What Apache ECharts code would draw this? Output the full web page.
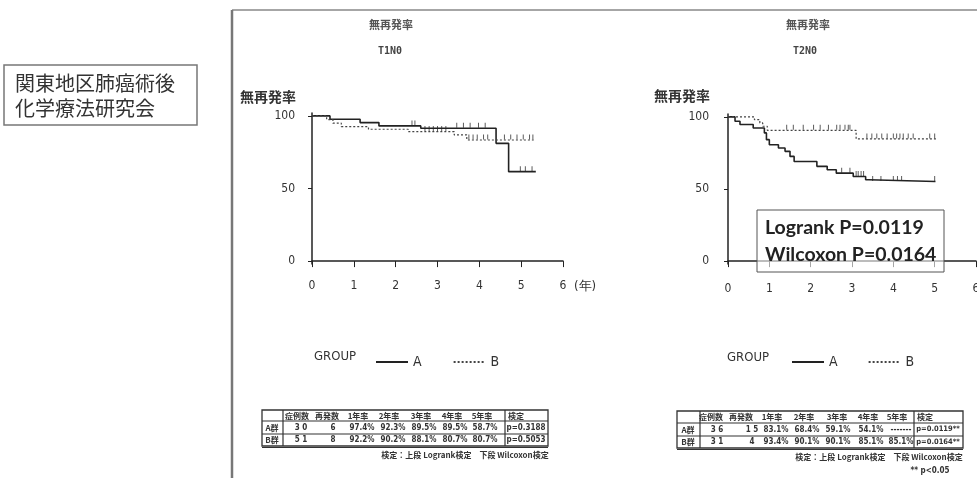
<!DOCTYPE html>
<html><head><meta charset="utf-8">
<script src="https://cdn.jsdelivr.net/npm/echarts@6/dist/echarts.min.js"></script>
<style>html,body{margin:0;padding:0;background:#fff}#c{width:977px;height:478px}</style>
</head><body><div id="c"></div>
<script>
// ---- data ----
const xTicks = [0, 1, 2, 3, 4, 5, 6];
const yTicks = [0, 50, 100];
const groupNames = ['A', 'B'];
// T1N0 Kaplan-Meier steps [year, %]
const t1A = [[0,100],[0.43,97.7],[1.15,95.4],[1.6,93.1],[2.6,91.5],[4.4,81.1],[4.7,61.6],[5.35,61.6]];
const t1B = [[0,100],[0.35,97.5],[0.5,95],[0.7,92.6],[1.35,90.8],[2.3,89.2],[3.4,86.9],[3.7,83.4],[5.3,83.4]];
const t1ACens = [2.39,2.46,3.46,3.62,3.78,3.98,4.14,4.98,5.1,5.26];
const t1BCens = [2.7,2.8,2.9,3.0,3.1,3.2,3.75,3.85,3.95,4.1,4.2,4.6,4.75,4.9,5.05,5.2,5.28];
// T2N0
const t2A = [[0,100],[0.17,97],[0.29,94.7],[0.61,92.3],[0.88,88.9],[0.93,84.2],[1.0,80.7],[1.22,78.4],[1.38,76.1],[1.5,72.6],[1.6,69.1],[2.15,65.7],[2.4,63.3],[2.62,61],[3.03,58.7],[3.33,56.4],[3.4,55.2],[5.02,55.2]];
const t2B = [[0,100],[0.64,98.1],[0.77,95.8],[0.84,93.5],[0.95,90.7],[3.1,84.7],[5.05,84.7]];
const t2ACens = [2.75,2.95,3.1,3.15,3.22,3.28,3.5,3.7,4.0,4.1,4.2,5.0];
const t2BCens = [1.42,1.58,1.82,2.07,2.23,2.43,2.63,2.71,2.83,2.91,2.95,3.36,3.48,3.6,3.72,3.85,4.0,4.08,4.16,4.24,4.36,4.48,4.88,5.0];
// tables
const tableHeaders = ['症例数','再発数','1年率','2年率','3年率','4年率','5年率','検定'];
const rowLabels = ['A群','B群'];
const t1RowA = ['3 0','6','97.4%','92.3%','89.5%','89.5%','58.7%','p=0.3188'];
const t1RowB = ['5 1','8','92.2%','90.2%','88.1%','80.7%','80.7%','p=0.5053'];
const t2RowA = ['3 6','1 5','83.1%','68.4%','59.1%','54.1%','-------','p=0.0119**'];
const t2RowB = ['3 1','4','93.4%','90.1%','90.1%','85.1%','85.1%','p=0.0164**'];
const tableNote = '検定：上段 Logrank検定　下段 Wilcoxon検定';
const sigNote = '** p<0.05';
const pBox = ['Logrank P=0.0119', 'Wilcoxon P=0.0164'];
const orgText = ['関東地区肺癌術後', '化学療法研究会'];
const chartTitle = '無再発率';
const subTitles = ['T1N0', 'T2N0'];
const yName = '無再発率';
const xUnit = '(年)';

// ---- helpers ----
function survAt(curve, t) {
  let s = curve[0][1];
  for (const p of curve) { if (p[0] <= t) s = p[1]; }
  return s;
}
const NARROW = '"Liberation Sans Narrow","DejaVu Sans Condensed","Liberation Sans",sans-serif';
const CJK = '"Noto Sans CJK JP",sans-serif';
function txt(x, y, text, size, opts) {
  opts = opts || {};
  return { type: 'text', z: 10, style: {
    x: x, y: y, text: text, fontSize: size, fontFamily: opts.family || CJK,
    fontWeight: opts.weight || 'normal', fill: opts.fill || '#333',
    align: opts.align || 'center', textAlign: opts.align || 'center',
    verticalAlign: 'middle', textVerticalAlign: 'middle'
  } };
}
function line(x1, y1, x2, y2, w, c) {
  return { type: 'line', z: 10, shape: { x1, y1, x2, y2 }, style: { stroke: c || '#333', lineWidth: w || 1 } };
}
function table(L, R, divL, divR, top, hb, mid, bot, labelX, headX, valX, rowA, rowB, pSize) {
  const els = [];
  els.push({ type: 'rect', z: 10, shape: { x: L, y: top, width: R - L, height: bot - top }, style: { fill: 'none', stroke: '#333', lineWidth: 1.3 } });
  els.push(line(L, hb, R, hb, 1.2));
  els.push(line(L, mid, R, mid, 1.2));
  els.push(line(L, bot + 1.5, R, bot + 1.5, 1));
  els.push(line(divL, top, divL, bot, 1.2));
  els.push(line(divR, top, divR, bot, 1.2));
  tableHeaders.forEach((h, i) => els.push(txt(headX[i], (top + hb) / 2, h, 8, { weight: 'bold' })));
  els.push(txt(labelX, (hb + mid) / 2, rowLabels[0], 8, { weight: 'bold' }));
  els.push(txt(labelX, (mid + bot) / 2, rowLabels[1], 8, { weight: 'bold' }));
  const last = rowA.length - 1;
  rowA.forEach((v, i) => els.push(txt(valX[i], (hb + mid) / 2, v, i === last ? pSize : 8, { weight: 'bold', family: NARROW })));
  rowB.forEach((v, i) => els.push(txt(valX[i], (mid + bot) / 2, v, i === last ? pSize : 8, { weight: 'bold', family: NARROW })));
  return els;
}

// ---- chart ----
const chart = echarts.init(document.getElementById('c'), null, { renderer: 'canvas' });
const axisTxt = { color: '#333', fontSize: 12, fontFamily: NARROW };
function xAxis(gi, off) {
  return { type: 'value', gridIndex: gi, min: 0, max: 6, interval: 1, offset: off,
    axisLine: { lineStyle: { color: '#222', width: 1.5 } },
    axisTick: { length: 6, customValues: xTicks, lineStyle: { color: '#222' } },
    axisLabel: Object.assign({ margin: 16, customValues: xTicks }, axisTxt),
    splitLine: { show: false } };
}
function yAxis(gi, off) {
  return { type: 'value', gridIndex: gi, min: -2, max: 102, offset: off,
    axisLine: { show: true, lineStyle: { color: '#222', width: 1.5 } },
    axisTick: { show: true, length: 4, customValues: yTicks, lineStyle: { color: '#222' } },
    axisLabel: Object.assign({ margin: 14, customValues: yTicks }, axisTxt),
    splitLine: { show: false } };
}
function kmSeries(name, data, gi, dashed) {
  return { name: name, type: 'line', step: 'end', xAxisIndex: gi, yAxisIndex: gi, data: data,
    symbol: 'none', silent: true, animation: false,
    lineStyle: dashed ? { color: '#444', width: 1.2, type: [2, 2] } : { color: '#222', width: 1.6 },
    itemStyle: { color: dashed ? '#444' : '#222' } };
}
function censSeries(times, curve, gi) {
  return { name: 'censor', type: 'scatter', xAxisIndex: gi, yAxisIndex: gi,
    data: times.map(t => [t, survAt(curve, t)]), symbol: 'rect', symbolSize: [1, 5],
    symbolOffset: [0, -3], itemStyle: { color: '#333' }, silent: true, animation: false };
}
const legendBase = { data: groupNames, top: 350, itemWidth: 32, itemHeight: 12,
  itemStyle: { opacity: 0 },
  textStyle: { color: '#333', fontSize: 14, fontFamily: NARROW }, selectedMode: false };

const graphics = [];
// document border
graphics.push(line(232, 10, 977, 10, 1.5, '#888'));
graphics.push(line(232, 10, 232, 478, 2.5, '#777'));
// org box
graphics.push({ type: 'rect', z: 10, shape: { x: 4, y: 65, width: 193, height: 60 }, style: { fill: 'none', stroke: '#777', lineWidth: 1.5 } });
graphics.push(txt(15, 83, orgText[0], 20, { align: 'left', fill: '#333' }));
graphics.push(txt(15, 108, orgText[1], 20, { align: 'left', fill: '#333' }));
// titles
graphics.push(txt(391, 25, chartTitle, 11, { weight: 'bold', fill: '#555' }));
graphics.push(txt(390, 51, subTitles[0], 10, { weight: 'bold', family: '"DejaVu Sans Mono",monospace', fill: '#444' }));
graphics.push(txt(808, 25, chartTitle, 11, { weight: 'bold', fill: '#555' }));
graphics.push(txt(805, 51, subTitles[1], 10, { weight: 'bold', family: '"DejaVu Sans Mono",monospace', fill: '#444' }));
graphics.push(txt(268, 97, yName, 14, { weight: 'bold' }));
graphics.push(txt(682, 96, yName, 14, { weight: 'bold' }));
graphics.push(txt(585, 287, xUnit, 13, { family: NARROW }));
// GROUP labels
graphics.push(txt(314, 357, 'GROUP', 13, { align: 'left', family: NARROW }));
graphics.push(txt(727, 358, 'GROUP', 13, { align: 'left', family: NARROW }));
// p-value box
graphics.push({ type: 'rect', z: 10, shape: { x: 757, y: 210, width: 187, height: 62 }, style: { fill: 'rgba(255,255,255,0.6)', stroke: '#555', lineWidth: 1 } });
graphics.push(txt(765, 228, pBox[0], 19.5, { align: 'left', weight: 'bold', family: 'Lato,"Open Sans",sans-serif', fill: '#222' }));
graphics.push(txt(765, 255, pBox[1], 19.5, { align: 'left', weight: 'bold', family: 'Lato,"Open Sans",sans-serif', fill: '#222' }));
// tables
graphics.push(...table(262, 548, 283, 505, 410, 421, 434, 446, 272,
  [297, 327, 358, 389, 421, 452, 482, 516], [301, 333, 362, 393, 424, 455, 485, 526], t1RowA, t1RowB, 8));
graphics.push(txt(465, 455, tableNote, 8, { weight: 'bold' }));
graphics.push(...table(677, 963, 700, 914, 411, 423, 436, 448, 688,
  [711, 741, 772, 804, 837, 868, 897, 925], [717, 752, 776, 807, 838, 871, 901, 938], t2RowA, t2RowB, 7.5));
graphics.push(txt(879, 457, tableNote, 8, { weight: 'bold' }));
graphics.push(txt(930, 471, sigNote, 8, { weight: 'bold', family: NARROW }));

chart.setOption({
  backgroundColor: '#fff',
  animation: false,
  grid: [
    { left: 312, width: 251, top: 113, height: 151, outerBoundsMode: 'none' },
    { left: 728, width: 248, top: 114, height: 150, outerBoundsMode: 'none' }
  ],
  xAxis: [xAxis(0, 0), xAxis(1, 3)],
  yAxis: [yAxis(0, 3), yAxis(1, 5)],
  legend: [
    Object.assign({ left: 370, itemGap: 31 }, legendBase),
    Object.assign({ left: 786, itemGap: 30 }, legendBase)
  ],
  series: [
    kmSeries('A', t1A, 0, false),
    kmSeries('B', t1B, 0, true),
    censSeries(t1ACens, t1A, 0),
    censSeries(t1BCens, t1B, 0),
    kmSeries('A', t2A, 1, false),
    kmSeries('B', t2B, 1, true),
    censSeries(t2ACens, t2A, 1),
    censSeries(t2BCens, t2B, 1)
  ],
  graphic: { elements: graphics }
});
</script></body></html>
